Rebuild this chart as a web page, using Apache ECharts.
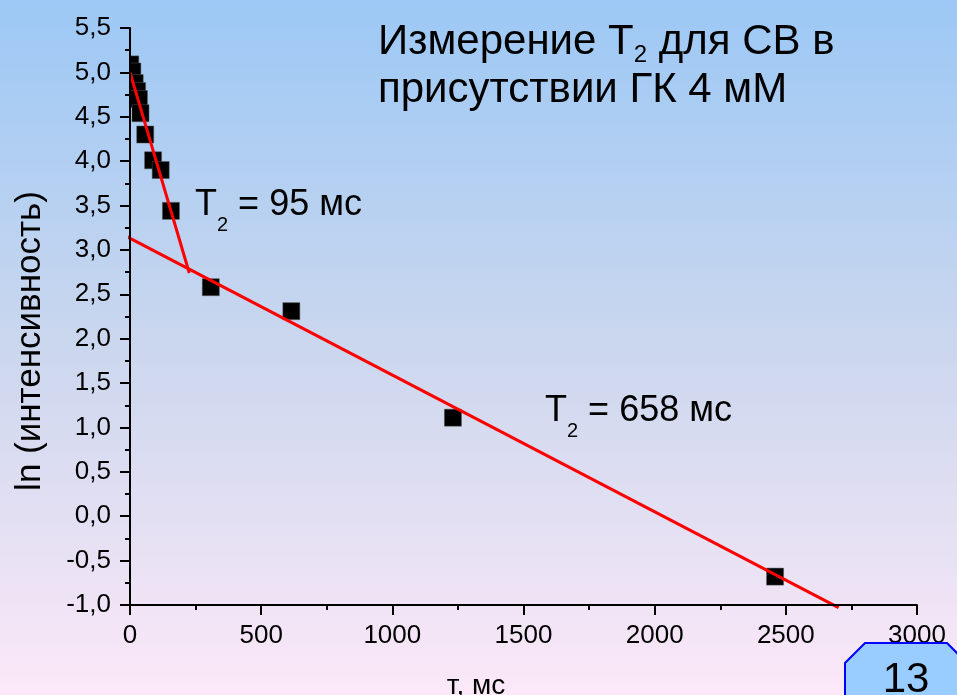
<!DOCTYPE html>
<html><head><meta charset="utf-8">
<script src="https://cdn.jsdelivr.net/npm/echarts@6/dist/echarts.min.js"></script>
<style>html,body{margin:0;padding:0;}#c{width:957px;height:695px;}</style>
</head><body><div id="c"></div>
<script>
// measured points: tau (ms) and ln(intensity)
const tau = [1, 9, 18, 27, 34, 40, 58, 88, 117, 156, 308, 615, 1231, 2459];
const lnI = [5.09, 5.01, 4.88, 4.79, 4.70, 4.54, 4.30, 4.01, 3.90, 3.44, 2.58, 2.31, 1.11, -0.68];
// fitted lines (end points)
const fastFitX = [0, 226];
const fastFitY = [5.00, 2.74];
const slowFitX = [-32, 2701];
const slowFitY = [3.18, -1.03];
// ticks
const xTicks = [0, 500, 1000, 1500, 2000, 2500, 3000];
const xTickLabels = ['0', '500', '1000', '1500', '2000', '2500', '3000'];
const yTickLabels = ['-1,0','-0,5','0,0','0,5','1,0','1,5','2,0','2,5','3,0','3,5','4,0','4,5','5,0','5,5'];
const yMin = -1, yMax = 5.5, yStep = 0.5;

const FONT = '"Liberation Sans", Arial, sans-serif';
const chart = echarts.init(document.getElementById('c'));
const pts = tau.map((t, i) => [t, lnI[i]]);
const fit1 = fastFitX.map((x, i) => [x, fastFitY[i]]);
const fit2 = slowFitX.map((x, i) => [x, slowFitY[i]]);

chart.setOption({
  animation: false,
  backgroundColor: new echarts.graphic.LinearGradient(0, 0, 0, 1, [
    {offset: 0, color: '#9cc8f5'},
    {offset: 0.5, color: '#cbd7ee'},
    {offset: 1, color: '#fce8f8'}
  ]),
  grid: {left: 130, right: 40, top: 28, bottom: 90},
  xAxis: {
    type: 'value', min: xTicks[0], max: xTicks[xTicks.length - 1], interval: 500, z: 5,
    axisLine: {onZero: false, lineStyle: {color: '#000', width: 2}},
    axisTick: {length: 10, lineStyle: {color: '#000', width: 2}},
    minorTick: {show: true, splitNumber: 2, length: 5, lineStyle: {color: '#000', width: 2}},
    splitLine: {show: false},
    axisLabel: {color: '#000', fontSize: 26, fontFamily: FONT, margin: 18,
      formatter: v => xTickLabels[xTicks.indexOf(v)]}
  },
  yAxis: {
    type: 'value', min: yMin, max: yMax, interval: yStep, z: 5,
    axisLine: {show: true, onZero: false, lineStyle: {color: '#000', width: 2}},
    axisTick: {show: true, length: 10, lineStyle: {color: '#000', width: 2}},
    minorTick: {show: true, splitNumber: 2, length: 5, lineStyle: {color: '#000', width: 2}},
    splitLine: {show: false},
    axisLabel: {color: '#000', fontSize: 26, fontFamily: FONT, margin: 19,
      formatter: v => yTickLabels[Math.round((v - yMin) / yStep)]}
  },
  series: [
    {
      type: 'custom', z: 2, data: pts,
      renderItem: function (params, api) {
        const p = api.coord([api.value(0), api.value(1)]);
        const s = 17;
        const cs = params.coordSys;
        const r = echarts.graphic.clipRectByRect(
          {x: p[0] - s / 2, y: p[1] - s / 2, width: s, height: s},
          {x: cs.x, y: cs.y, width: cs.width, height: cs.height});
        return r && {type: 'rect', shape: r, style: {fill: '#000', stroke: '#555', lineWidth: 0.5}};
      }
    },
    {type: 'line', z: 3, data: fit1, showSymbol: false, clip: false,
      lineStyle: {color: '#ff0000', width: 3}},
    {type: 'line', z: 3, data: fit2, showSymbol: false, clip: false,
      lineStyle: {color: '#ff0000', width: 3}}
  ],
  graphic: [
    {type: 'text', x: 378, y: 17, z: 10, style: {
      text: '{m|Измерение T}{s|2}{m| для СВ в}\n{n|присутствии ГК 4 мМ}',
      rich: {
        m: {fontSize: 42, fontFamily: FONT, fill: '#000', lineHeight: 50},
        s: {fontSize: 24, fontFamily: FONT, fill: '#000', lineHeight: 24, verticalAlign: 'bottom'},
        n: {fontSize: 42, fontFamily: FONT, fill: '#000', lineHeight: 46}
      }
    }},
    {type: 'text', x: 195, y: 175, z: 10, style: {
      text: '{m|T}{s|2}{m| = 95 мс}',
      rich: {
        m: {fontSize: 36, fontFamily: FONT, fill: '#000', lineHeight: 60},
        s: {fontSize: 20, fontFamily: FONT, fill: '#000', lineHeight: 20, verticalAlign: 'bottom'}
      }
    }},
    {type: 'text', x: 545, y: 381, z: 10, style: {
      text: '{m|T}{s|2}{m| = 658 мс}',
      rich: {
        m: {fontSize: 36, fontFamily: FONT, fill: '#000', lineHeight: 60},
        s: {fontSize: 20, fontFamily: FONT, fill: '#000', lineHeight: 20, verticalAlign: 'bottom'}
      }
    }},
    {type: 'text', x: 30, y: 341, rotation: Math.PI / 2, z: 10, style: {
      text: 'ln (интенсивность)', font: '35px ' + FONT, fill: '#000',
      align: 'center', verticalAlign: 'middle'
    }},
    {type: 'text', x: 476, y: 686, z: 10, style: {
      text: 'т, мс', font: '28px ' + FONT, fill: '#000',
      align: 'center', verticalAlign: 'middle'
    }},
    {type: 'polygon', z: 20, shape: {points: [[845,663],[865,643],[947,643],[967,663],[967,720],[947,740],[865,740],[845,720]]},
      style: {fill: '#99ccff', stroke: '#0000ff', lineWidth: 2}},
    {type: 'text', x: 906, y: 680, z: 21, style: {
      text: '13', font: '42px ' + FONT, fill: '#000', align: 'center', verticalAlign: 'middle'
    }}
  ]
});
</script></body></html>
